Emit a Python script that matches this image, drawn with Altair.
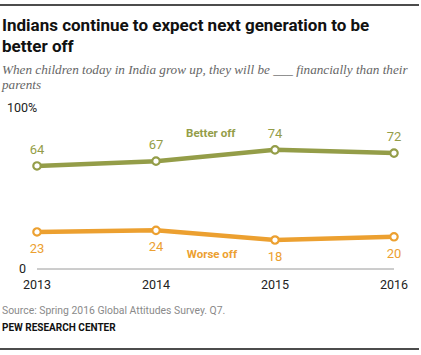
import altair as alt
import pandas as pd

years = [2013, 2014, 2015, 2016]
better_off = [64, 67, 74, 72]
worse_off = [23, 24, 18, 20]
series_names = ["Better off", "Worse off"]
series_colors = ["#949d48", "#eca030"]
# series label anchor positions (data units)
label_years = [2014.46, 2014.47]
label_values = [84, 9]

title_lines = ["Indians continue to expect next generation to be", "better off"]
subtitle_lines = ["When children today in India grow up, they will be ___ financially than their", "parents"]
source_text = "Source: Spring 2016 Global Attitudes Survey. Q7."
org_text = "PEW RESEARCH CENTER"
y_ticks = [0, 100]
y_tick_labels = ["0", "100%"]

rows = []
for i, y in enumerate(years):
    rows.append({"year": y, "value": better_off[i], "series": series_names[0]})
    rows.append({"year": y, "value": worse_off[i], "series": series_names[1]})
df = pd.DataFrame(rows)

W, H = 357, 161
LEFT, TOP = 37, 108

xs = alt.Scale(domain=[2013, 2016])
ys = alt.Scale(domain=[0, 100])
cscale = alt.Scale(domain=series_names, range=series_colors)

xenc = alt.X("year:Q", scale=xs, axis=None)
yenc = alt.Y("value:Q", scale=ys, axis=None)
cenc = alt.Color("series:N", scale=cscale, legend=None)

lines = alt.Chart(df).mark_line(strokeWidth=4.5).encode(x=xenc, y=yenc, color=cenc)
points = alt.Chart(df).mark_point(filled=False, size=55, strokeWidth=2.2, opacity=1, fill="white").encode(
    x=xenc, y=yenc, color=cenc)

lab_better = alt.Chart(df).transform_filter(alt.datum.series == series_names[0]).mark_text(
    font="Roboto", fontSize=13, dy=-16).encode(x=xenc, y=yenc, text="value:Q", color=cenc)
lab_worse = alt.Chart(df).transform_filter(alt.datum.series == series_names[1]).mark_text(
    font="Roboto", fontSize=13, dy=17).encode(x=xenc, y=yenc, text="value:Q", color=cenc)

sdf = pd.DataFrame({"year": label_years, "value": label_values, "series": series_names})
series_labels = alt.Chart(sdf).mark_text(font="Roboto", fontSize=11.5, fontWeight="bold").encode(
    x=xenc, y=yenc, text="series:N", color=cenc)

zero_df = pd.DataFrame({"value": [0]})
baseline = alt.Chart(zero_df).mark_rule(color="#9a9a9a", strokeWidth=1).encode(
    x=alt.value(0), x2=alt.value(W), y=yenc)

# x axis labels drawn from the years list
ydf_years = pd.DataFrame({"year": years, "lbl": [str(y) for y in years]})
xlabels = alt.Chart(ydf_years).mark_text(
    font="Roboto", fontSize=12.5, color="#222", baseline="alphabetic").encode(
    x=xenc, y=alt.value(289 - TOP), text="lbl:N")

ydf0 = pd.DataFrame({"value": [y_ticks[0]], "t": [y_tick_labels[0]]})
ydf1 = pd.DataFrame({"value": [y_ticks[1]], "t": [y_tick_labels[1]]})
ylab0 = alt.Chart(ydf0).mark_text(font="Roboto", fontSize=12.5, color="#222", align="right").encode(
    x=alt.value(-11), y=yenc, text="t:N")
ylab100 = alt.Chart(ydf1).mark_text(font="Roboto", fontSize=12.5, color="#222", align="left").encode(
    x=alt.value(-30), y=yenc, text="t:N")

text_items = [
    (title_lines[0], 31, dict(font="Roboto", fontSize=17, fontWeight="bold", color="#111")),
    (title_lines[1], 52, dict(font="Roboto", fontSize=17, fontWeight="bold", color="#111")),
    (subtitle_lines[0], 74, dict(font="Liberation Serif", fontSize=13.2, fontStyle="italic", color="#666")),
    (subtitle_lines[1], 89, dict(font="Liberation Serif", fontSize=13.2, fontStyle="italic", color="#666")),
    (source_text, 314, dict(font="Roboto", fontSize=10.4, color="#8a8a8a")),
    (org_text, 331, dict(font="Roboto", fontSize=10, fontWeight="bold", color="#111")),
]

annotations = []
for s, ypix, kw in text_items:
    d = pd.DataFrame({"t": [s]})
    annotations.append(alt.Chart(d).mark_text(align="left", baseline="alphabetic", **kw).encode(
        x=alt.value(2 - LEFT), y=alt.value(ypix - TOP), text="t:N"))

# decorative frame rules above the title and below the credit line (full page width)
frame_pixels = [5, 349]
x_left = 2013 + (-LEFT) / W * 3
x_right = 2013 + (419 - LEFT) / W * 3
frame_df = pd.DataFrame({
    "value": [(H - (p - TOP)) / H * 100 for p in frame_pixels],
    "year": [x_left, x_left],
    "year_end": [x_right, x_right],
})
frame_rules = alt.Chart(frame_df).mark_rule(color="#111", strokeWidth=1.3, clip=False).encode(
    x=xenc, x2="year_end:Q", y=yenc)

chart = alt.layer(
    baseline, lines, points, lab_better, lab_worse, series_labels, xlabels, ylab0, ylab100,
    frame_rules, *annotations
).properties(
    width=W, height=H,
    background="white",
    autosize=alt.AutoSizeParams(type="none"),
    padding={"left": LEFT, "top": TOP, "right": 421 - LEFT - W, "bottom": 355 - TOP - H},
).configure_view(stroke=None)

chart.save("out.html", embed_options={"renderer": "svg", "actions": False})
